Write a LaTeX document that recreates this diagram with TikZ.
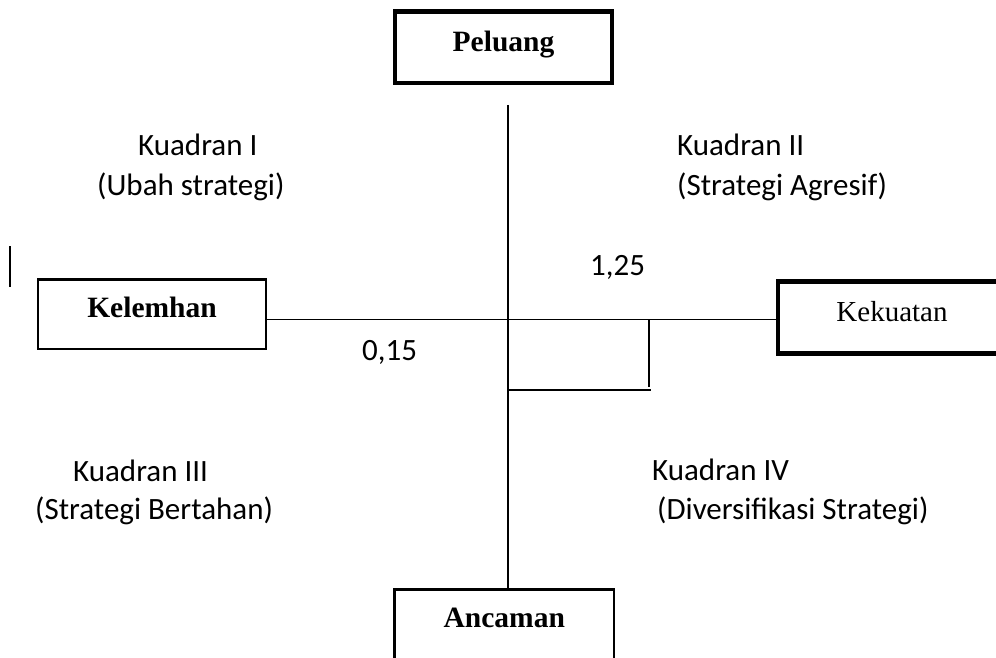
\documentclass[tikz,border=0pt]{standalone}
\usepackage{fontspec}
\setmainfont{Liberation Serif}
\newfontfamily\labelfont{Carlito}
\begin{document}
\begin{tikzpicture}[x=1pt,y=-1pt,
  boxthick/.style={draw, line width=4.5pt, inner sep=0pt, outer sep=0pt, align=center,
     font=\fontsize{29.5}{34}\selectfont\bfseries},
  boxthin/.style={draw, line width=2.6pt, inner sep=0pt, outer sep=0pt, align=center,
     font=\fontsize{29.5}{34}\selectfont\bfseries},
  axis/.style={line width=1.9pt},
  quad/.style={anchor=base west, inner sep=0pt, font=\labelfont\fontsize{31}{37}\selectfont}
]
\clip (0,0) rectangle (996,658);
\fill[white] (0,0) rectangle (996,658);

% boxes
\node[boxthick, minimum width=217pt, text height=40.3pt, text depth=31pt] (pel) at (503.5,47.3) {Peluang};
\node[boxthin, minimum width=228pt, text height=37.5pt, text depth=32pt] (kel) at (152,314.3) {Kelemhan};
\node[boxthick, minimum width=228pt, text height=39.5pt, text depth=32.5pt,
      font=\fontsize{29}{34}\selectfont] (kek) at (892,317.5) {Kekuatan};
\node[boxthin, minimum width=219.5pt, text height=37.5pt, text depth=40pt] (anc) at (504.3,628.3) {Ancaman};

% axes
\coordinate (O) at (508,319.5);
\coordinate (vtop) at (508,105);
\draw[axis] (O -| kel.east) -- (O -| kek.west);
\draw[axis] (vtop) -- (O |- anc.north);

% small rectangle
\coordinate (r1) at (649.3,319.5);
\coordinate (r2) at (649.3,387);
\coordinate (b1) at (508,390);
\coordinate (b2) at (650.7,390);
\draw[axis] (r1) -- (r2);
\draw[axis] (b1) -- (b2);

% stray mark
\coordinate (m1) at (10,246);
\coordinate (m2) at (10,287);
\draw[line width=2pt] (m1) -- (m2);

% labels
\node[quad] (q1a) at (138,156) {Kuadran I};
\node[quad] (q1b) at (97,195) {(Ubah strategi)};
\node[quad] (q2a) at (677,156) {Kuadran II};
\node[quad] (q2b) at (677,195) {(Strategi Agresif)};
\node[quad] (q3a) at (73,481) {Kuadran III};
\node[quad] (q3b) at (35,519) {(Strategi Bertahan)};
\node[quad] (q4a) at (652,480) {Kuadran IV};
\node[quad] (q4b) at (657,519) {(Diversifikasi Strategi)};
\node[quad] (v1) at (590,275) {1,25};
\node[quad] (v2) at (362,360) {0,15};
\end{tikzpicture}
\end{document}
